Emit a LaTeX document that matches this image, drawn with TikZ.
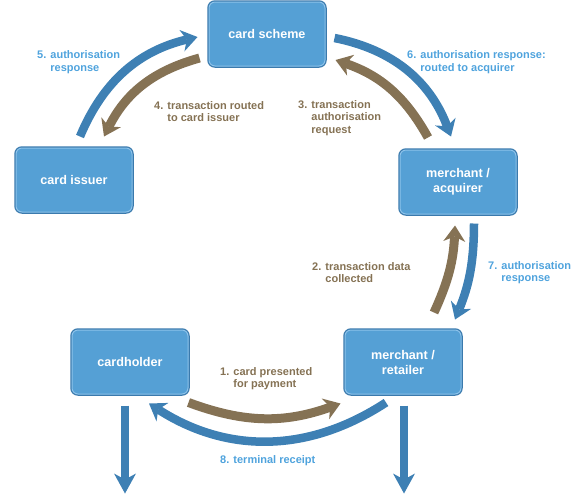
\documentclass[tikz,border=0pt]{standalone}
\usepackage{fontspec}
\setmainfont{Liberation Sans}
\usetikzlibrary{arrows.meta}

\begin{document}
\begin{tikzpicture}[x=1pt, y=-1pt, >={Stealth[length=16pt,width=22pt,inset=5pt,line width=0pt]}]

\definecolor{boxfill}{RGB}{85,160,213}
\definecolor{boxedge}{RGB}{58,122,173}
\definecolor{boxshine}{RGB}{140,194,234}
\definecolor{tan}{RGB}{133,114,84}
\definecolor{flowblue}{RGB}{62,128,180}
\definecolor{labelblue}{RGB}{79,163,221}

% Page size
\useasboundingbox (0,0) rectangle (580,493);

\tikzset{
    party/.style={
        draw=boxshine, line width=1pt, fill=boxfill,
        preaction={draw=boxedge, line width=3.5pt},
        rectangle, rounded corners=6pt,
        minimum width=116pt, minimum height=64pt,
        text=white, font={\bfseries\fontsize{12.6}{15}\selectfont}, align=center
    },
    msg/.style={
        text=#1, font={\bfseries\fontsize{11}{12.7}\selectfont},
        align=left, anchor=west, inner sep=0pt
    },
    req/.style={->, draw=tan, line width=9pt},
    resp/.style={->, draw=flowblue, line width=8.5pt},
    handout/.style={->, draw=flowblue, line width=7.5pt,
        >={Stealth[length=20pt,width=22pt,inset=6pt,line width=0pt]}}
}

% PARTIES
\node[party] (scheme)   at (267,34)  {card scheme};
\node[party] (issuer)   at (74,180)  {card issuer};
\node[party] (acquirer) at (458,182) {merchant /\\acquirer};
\node[party] (holder)   at (130,362) {cardholder};
\node[party] (retailer) at (403,362) {merchant /\\retailer};

% --- REQUEST FLOW ---
\draw[req] ([shift={(0,8)}]holder.south east) to[bend right=20] ([shift={(-4,9)}]retailer.south west);
\draw[req] ([shift={(31,-17)}]retailer.north) to[bend right=11] ([shift={(-3,11)}]acquirer.south);
\draw[req] ([shift={(-30,-12)}]acquirer.north) to[bend right=21] ([shift={(10,26)}]scheme.east);
\draw[req] ([shift={(-9,24)}]scheme.west) to[bend right=24] ([shift={(30,-11)}]issuer.north);

% --- RESPONSE FLOW ---
\draw[resp] ([shift={(6,-11)}]issuer.north) to[bend left=27] ([shift={(-11,3)}]scheme.west);
\draw[resp] ([shift={(9,4)}]scheme.east) to[bend left=29] ([shift={(-7,-13)}]acquirer.north);
\draw[resp] ([shift={(16,9)}]acquirer.south) to[bend left=11] ([shift={(52,-10)}]retailer.north);
\draw[resp] ([shift={(-17,8)}]retailer.south) to[bend left=33] ([shift={(19,9)}]holder.south);

% Outputs
\draw[handout] ([shift={(-5,11)}]holder.south) -- ([shift={(-5,99)}]holder.south);
\draw[handout] ([shift={(1,11)}]retailer.south) -- ([shift={(1,99)}]retailer.south);

% Step labels
\node[msg=tan] (m1) at (220,378.5) {1. card presented\\\phantom{1. }for payment};
\node[msg=tan] (m2) at (312,272.5) {2. transaction data\\\phantom{2. }collected};
\node[msg=tan] (m3) at (298,118) {3. transaction\\\phantom{3. }authorisation\\\phantom{3. }request};
\node[msg=tan] (m4) at (154,111.5) {4. transaction routed\\\phantom{4. }to card issuer};
\node[msg=labelblue] (m5) at (37,62) {5. authorisation\\\phantom{5. }response};
\node[msg=labelblue] (m6) at (407,62) {6. authorisation response:\\\phantom{6. }routed to acquirer};
\node[msg=labelblue] (m7) at (488,272.5) {7. authorisation\\\phantom{7. }response};
\node[msg=labelblue] (m8) at (220,461) {8. terminal receipt};

\end{tikzpicture}
\end{document}
